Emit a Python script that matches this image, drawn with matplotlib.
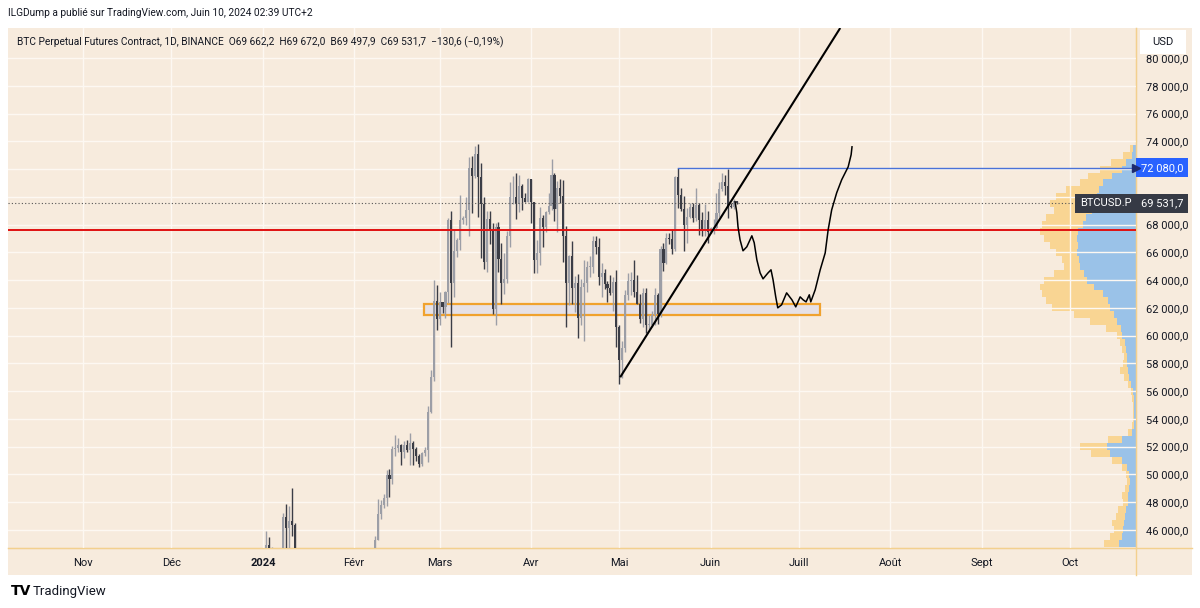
import numpy as np
import pandas as pd
import matplotlib
matplotlib.use("Agg")
import matplotlib.pyplot as plt
from matplotlib.patches import Rectangle
from matplotlib.transforms import blended_transform_factory

plt.rcParams['font.family'] = ['Roboto', 'DejaVu Sans']

# ── Data ──────────────────────────────────────────────────────────────────────

BASE = pd.Timestamp("2023-11-01")          # x axis = days since this date
START = pd.Timestamp("2024-01-01")         # first daily candle

FIRST_OPEN = 42280
# daily highs / lows / closes, 2024-01-01 .. 2024-06-10
HIGHS = [
    44200, 45900, 45500, 44750, 44350, 44250, 44500, 47250, 47900, 47700,
    49000, 46500, 43250, 43050, 43400, 43550, 43200, 42920, 42200, 41850,
    41880, 41680, 40150, 40520, 40300, 42200, 42200, 42850, 43320, 43880,
    43750,
    43270, 43480, 43380, 43120, 43500, 43380, 44380, 45600, 48200, 48150,
    48580, 50340, 50400, 52050, 52850, 52600, 52200, 52400, 52500, 52950,
    52380, 52000, 51500, 51650, 51950, 54900, 57550, 64000, 63650,
    63150, 62400, 63200, 68500, 69000, 67650, 67000, 70100, 68600, 69950,
    72850, 72950, 73650, 73800, 72400, 70000, 68950, 68950, 68100, 68100,
    68200, 66650, 65950, 67550, 71100, 71500, 71700, 71550, 70950, 70300,
    71350,
    71300, 69650, 66900, 69300, 68700, 69000, 70300, 72750, 71700, 71150,
    71250, 71200, 67900, 65800, 66800, 64300, 64450, 64100, 65450, 65400,
    65700, 67200, 67200, 67050, 65250, 64800, 63900, 64350, 64200, 64700,
    60800, 59600, 63300, 64500, 64600, 65450, 64350, 62980, 63400, 63450,
    61450, 61800, 63400, 63100, 66450, 66700, 67400, 67400, 67650, 71500,
    72080, 70600, 70050, 69200, 69550, 69550, 70600, 69550, 68900, 69500,
    69000,
    67850, 68400, 70250, 71050, 71750, 71600, 71997, 69550, 69850, 69672.0,
]
LOWS = [
    42180, 44150, 40750, 42600, 42600, 43400, 43600, 43200, 44300, 44350,
    45600, 41500, 42450, 41700, 41700, 42050, 42200, 40650, 40300, 41450,
    41500, 39450, 38500, 39480, 39250, 39800, 41400, 41650, 41800, 42700,
    42300,
    41900, 42600, 42900, 42250, 42270, 42600, 42800, 44340, 45250, 46800,
    47550, 47700, 48350, 49300, 51350, 51600, 50650, 51200, 51650, 50700,
    50650, 50950, 50520, 50600, 51300, 50900, 54450, 56700, 60400,
    60800, 61600, 61300, 62350, 59200, 62800, 65650, 66150, 68050, 68000,
    67200, 68850, 71350, 68550, 65600, 64800, 64550, 66600, 61550, 60800,
    64550, 62300, 63000, 63800, 66400, 69500, 68400, 68900, 69050, 69600,
    69600,
    68100, 64500, 64500, 65100, 66400, 67450, 68750, 69050, 68250, 67500,
    69550, 65300, 60650, 62200, 62300, 61700, 59800, 60800, 59600, 63150,
    64250, 64500, 65900, 63650, 62800, 63350, 62450, 62900, 61800, 59150,
    56550, 56950, 58800, 62600, 62900, 62800, 62300, 60900, 60650, 60200,
    60500, 60650, 60750, 60850, 61350, 64650, 65150, 66600, 65900, 66100,
    69200, 68950, 66100, 66650, 68500, 68200, 68250, 67250, 67150, 67150,
    66650,
    67400, 67300, 67650, 68550, 70400, 70150, 68500, 69200, 69150, 69497.9,
]
CLOSES = [
    44180, 44950, 42830, 44150, 44160, 43970, 43930, 46950, 46110, 46650,
    46350, 42780, 42850, 41730, 42500, 43150, 42750, 41260, 41620, 41680,
    41580, 39520, 39880, 40080, 39940, 41800, 42120, 42040, 43300, 42940,
    42580,
    43080, 43190, 43000, 42600, 42680, 43100, 44340, 45300, 47140, 47770,
    48300, 49950, 49700, 51800, 51930, 52140, 51650, 52130, 51780, 52260,
    51850, 51300, 50740, 51570, 51730, 54480, 57050, 62500, 61170,
    62430, 62030, 63130, 68330, 63800, 66100, 66900, 68300, 68500, 69020,
    72100, 71480, 73100, 71400, 69450, 65300, 68400, 67600, 61950, 67850,
    65500, 63800, 64100, 67200, 69950, 69950, 69450, 70750, 69900, 69650,
    71300,
    69650, 65450, 65950, 68500, 67800, 68900, 69350, 71600, 69100, 70600,
    70050, 67200, 63800, 65700, 63450, 63800, 61250, 63500, 63800, 64950,
    64950, 66850, 66400, 64250, 64500, 63750, 63400, 63100, 63850, 60650,
    58250, 59100, 62900, 63900, 64000, 63150, 62300, 61200, 63050, 60800,
    60800, 61450, 62900, 61550, 66250, 65250, 67050, 66950, 66250, 71450,
    70100, 69150, 67950, 68550, 69300, 68500, 69400, 68350, 67600, 68350,
    67500,
    67750, 67750, 68800, 70550, 71100, 70800, 69350, 69300, 69662.2, 69531.7,
]

# user drawings (x in days since BASE, y in USD)
TREND_X = [182.3, 257.0]
TREND_Y = [57000, 82160]
RED_LEVEL = 67580
BLUE_LEVEL = 72080
BLUE_START = 202.0
ZONE_X = [115.8, 250.2]
ZONE_Y = [61500, 62300]
LAST_PRICE = 69531.7

PATH_X = [221.3, 221.9, 222.3, 223.0, 224.0, 225.3, 227.0, 227.8, 228.7, 229.8,
          230.8, 232.5, 233.5, 234.2, 235.1, 235.8, 237.1, 238.8, 240.6, 241.9,
          243.4, 244.4, 245.4, 246.5, 247.0, 248.5, 250.2, 251.9, 252.9, 254.1,
          255.8, 257.5, 259.7, 260.7, 261.0]
PATH_Y = [69640, 68850, 67840, 66900, 66110, 66400, 67190, 66690, 65460, 64520,
          64090, 64520, 64740, 64020, 62800, 62000, 62220, 63080, 62580, 62070,
          62790, 62580, 62430, 62940, 62430, 63300, 64740, 65960, 67620, 69060,
          70290, 71230, 72160, 73030, 73600]

# visible range volume profile (px-ish units): total and up-part per 500 USD row
VP_PRICE = np.arange(45000, 74000, 500)
VP_TOTAL = [32, 26, 22, 24, 20, 18, 13, 14, 11, 9, 10, 14, 24, 45, 56, 28, 8, 4,
            3, 3, 3, 4, 5, 8, 12, 16, 13, 12, 14, 16, 19, 30, 46, 62, 84, 90,
            94, 96, 92, 82, 72, 74, 80, 86, 92, 96, 94, 90, 82, 86, 80, 70, 56,
            48, 36, 25, 13, 6]
VP_UP = [17, 14, 13, 12, 11, 10, 8, 8, 7, 6, 7, 9, 14, 26, 29, 14, 4, 2,
         2, 2, 2, 2, 3, 5, 7, 8, 9, 9, 10, 11, 14, 15, 19, 22, 26, 28,
         33, 42, 49, 52, 56, 57, 59, 58, 59, 58, 53, 50, 44, 42, 39, 37, 33,
         24, 14, 10, 4, 3]

MONTH_LABELS = ["Nov", "Déc", "2024", "Févr", "Mars", "Avr", "Mai", "Juin",
                "Juill", "Août", "Sept", "Oct"]
MONTH_STARTS = pd.date_range("2023-11-01", "2024-10-01", freq="MS")

HEADER = "ILGDump a publié sur TradingView.com, Juin 10, 2024 02:39 UTC+2"
LEGEND = ("BTC Perpetual Futures Contract, 1D, BINANCE  O69 662,2  H69 672,0  "
          "B69 497,9  C69 531,7  −130,6 (−0,19%)")

# ── Styling ───────────────────────────────────────────────────────────────────

BG = "#f7ebdd"
GRID = "#fdf8f2"
EDGE = "#f3d08e"
UP = "#9c9ea6"
DOWN = "#3b3d46"
TXT = "#131722"
W, H = 1200, 608

fig = plt.figure(figsize=(W / 100, H / 100), dpi=100)
fig.patch.set_facecolor("white")
fig.patches.append(Rectangle((8 / W, 33 / H), 1184 / W, 547 / H,
                             transform=fig.transFigure, facecolor=BG,
                             edgecolor="none", zorder=-5))

rect = [8 / W, 60 / H, 1128 / W, 520 / H]
ax_vp = fig.add_axes(rect)
ax = fig.add_axes(rect, sharey=ax_vp)
ax_vp.set_zorder(1)
ax.set_zorder(2)
ax.patch.set_visible(False)
ax_vp.patch.set_visible(False)

xlim = (-25.5, 357.4)
ylim = (44700, 82160)
ax.set_xlim(*xlim)
ax.set_ylim(*ylim)

# volume profile
vp_total = np.array(VP_TOTAL)
vp_up = np.array(VP_UP)
ax_vp.set_xlim(1128, 0)
ax_vp.barh(VP_PRICE, vp_total - vp_up, left=vp_up, height=500,
           color="#f9d593", edgecolor="none")
ax_vp.barh(VP_PRICE, vp_up, height=500, color="#9ac2e8", edgecolor="none")
ax_vp.set_xticks([])
ax_vp.tick_params(left=False, labelleft=False, right=False, labelright=False)
for s in ax_vp.spines.values():
    s.set_visible(False)

# grid
month_x = [(d - BASE).days for d in MONTH_STARTS]
ax.set_xticks(month_x)
ax.set_xticklabels(MONTH_LABELS)
ax.set_yticks(np.arange(46000, 80001, 2000))
ax.yaxis.set_major_formatter(
    lambda v, p: f"{v:,.1f}".replace(",", " ").replace(".", ","))
ax.yaxis.tick_right()
ax.grid(True, color=GRID, linewidth=1.0, zorder=0)
ax.set_axisbelow(True)
ax.tick_params(axis="both", length=0, labelsize=8, colors=TXT)
ax.tick_params(axis="y", pad=7)
ax.tick_params(axis="x", pad=7)
for lbl in ax.get_xticklabels():
    if lbl.get_text() == "2024":
        lbl.set_fontweight("bold")
for side in ("top", "left"):
    ax.spines[side].set_visible(False)
ax.spines["right"].set_color(EDGE)
ax.spines["bottom"].set_color(EDGE)

# candles
dates = pd.date_range(START, periods=len(CLOSES), freq="D")
cx = np.array([(d - BASE).days for d in dates], dtype=float)
closes = np.array(CLOSES, dtype=float)
opens = np.concatenate([[FIRST_OPEN], closes[:-1]])
highs = np.array(HIGHS, dtype=float)
lows = np.array(LOWS, dtype=float)
up = closes >= opens
colors = np.where(up, UP, DOWN)
ax.vlines(cx, lows, highs, colors=colors, linewidth=1.0, zorder=3)
ax.bar(cx, np.maximum(np.abs(closes - opens), 60), bottom=np.minimum(opens, closes),
       width=0.7, color=colors, edgecolor="none", zorder=3)

# drawings
ax.axhline(LAST_PRICE, color="#555555", linestyle=(0, (1, 2)), linewidth=0.8, zorder=4)
ax.axhline(RED_LEVEL, color="#e01010", linewidth=1.4, zorder=4)
ax.plot([BLUE_START, xlim[1]], [BLUE_LEVEL, BLUE_LEVEL], color="#4a72d8",
        linewidth=1.0, zorder=4)
ax.add_patch(Rectangle((ZONE_X[0], ZONE_Y[0]), ZONE_X[1] - ZONE_X[0],
                       ZONE_Y[1] - ZONE_Y[0], facecolor="#e6e1e6",
                       edgecolor="#f0a22e", linewidth=1.6, zorder=2))
ax.plot(TREND_X, TREND_Y, color="black", linewidth=1.5, zorder=5,
        solid_capstyle="butt")
ax.plot(PATH_X, PATH_Y, color="black", linewidth=1.1, zorder=5,
        solid_joinstyle="round")

# price labels on the axis
trans = blended_transform_factory(ax.transAxes, ax.transData)
lbl_box = dict(boxstyle="square,pad=0.4", ec="none")
ax.annotate("69 531,7", xy=(1.0, LAST_PRICE), xycoords=trans,
            xytext=(3.5, 0), textcoords="offset points", ha="left", va="center",
            fontsize=8, color="white", zorder=10, annotation_clip=False,
            bbox=dict(lbl_box, fc="#363a45"))
ax.annotate("BTCUSD.P", xy=(1.0, LAST_PRICE), xycoords=trans,
            xytext=(-3.5, 0), textcoords="offset points", ha="right", va="center",
            fontsize=8, color="white", zorder=10, annotation_clip=False,
            bbox=dict(lbl_box, fc="#363a45"))
ax.annotate("72 080,0", xy=(1.0, BLUE_LEVEL), xycoords=trans,
            xytext=(3.5, 0), textcoords="offset points", ha="left", va="center",
            fontsize=8, color="white", zorder=10, annotation_clip=False,
            bbox=dict(lbl_box, fc="#2962ff"))
ax.plot([1.0], [BLUE_LEVEL], marker=">", color="#1e2a6e", markersize=6,
        transform=trans, clip_on=False, zorder=11)

# frame lines across axis areas
fig.add_artist(plt.Line2D([1136 / W, 1136 / W], [33 / H, 580 / H],
                          color=EDGE, linewidth=1.0))
fig.add_artist(plt.Line2D([8 / W, 1192 / W], [60 / H, 60 / H],
                          color=EDGE, linewidth=1.0))

# USD box
fig.patches.append(Rectangle((1140 / W, 1 - 54 / H), 46 / W, 24 / H,
                             transform=fig.transFigure, facecolor="white",
                             edgecolor="none", zorder=20))
fig.text(1163 / W, 1 - 42 / H, "USD", ha="center", va="center", fontsize=8,
         color=TXT, zorder=21)

# header texts
fig.text(8 / W, 1 - 13 / H, HEADER, ha="left", va="center", fontsize=7.3, color=TXT)
fig.text(17 / W, 1 - 42 / H, LEGEND, ha="left", va="center", fontsize=7.3, color=TXT)

# logo
fig.text(11 / W, 1 - 591 / H, "TV", ha="left", va="center", fontsize=10,
         fontweight="heavy", color="black", family="DejaVu Sans")
fig.text(33 / W, 1 - 591 / H, "TradingView", ha="left", va="center",
         fontsize=9.5, color=TXT)

fig.savefig("out.png", dpi=100, facecolor="white")
